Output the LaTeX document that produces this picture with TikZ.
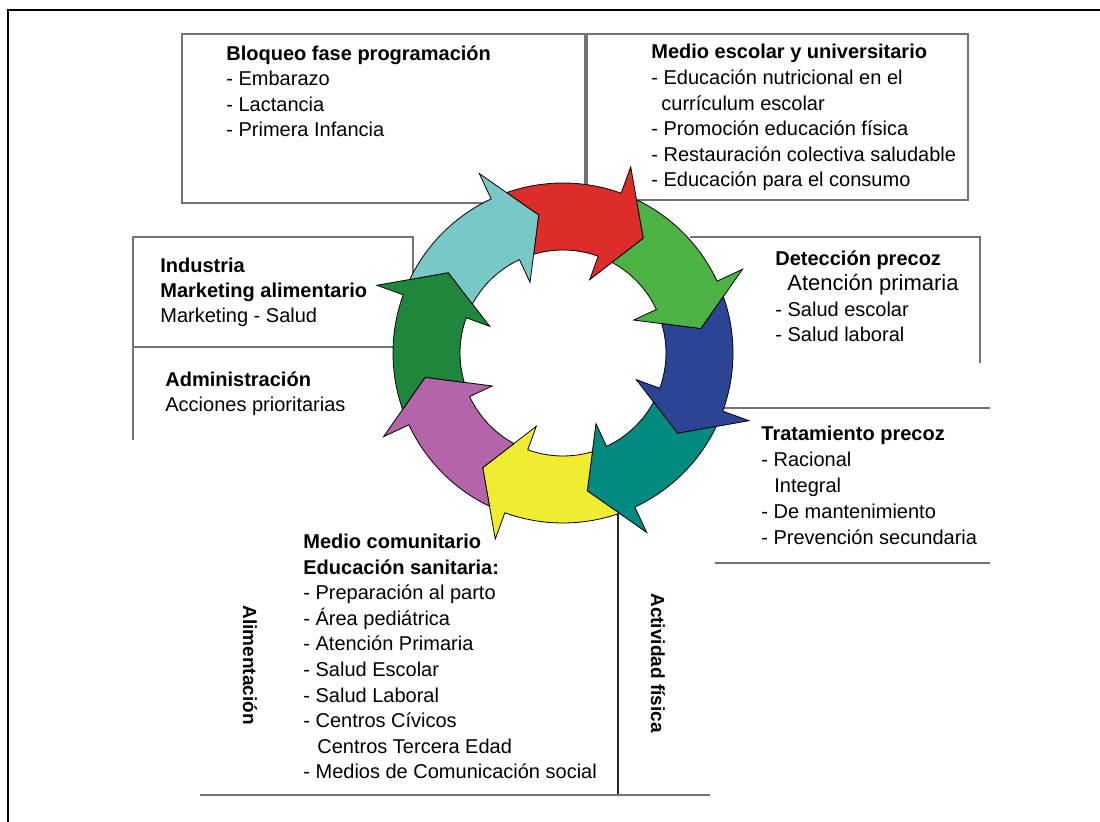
\documentclass[tikz,border=0pt]{standalone}
\usepackage{fontspec}
\setmainfont{Liberation Sans}

\definecolor{ringred}{RGB}{221,45,42}
\definecolor{ringlgreen}{RGB}{76,178,68}
\definecolor{ringblue}{RGB}{44,68,148}
\definecolor{ringteal}{RGB}{0,138,128}
\definecolor{ringyellow}{RGB}{240,236,50}
\definecolor{ringpurple}{RGB}{180,100,168}
\definecolor{ringdgreen}{RGB}{30,135,60}
\definecolor{ringcyan}{RGB}{120,200,200}

\begin{document}
\begin{tikzpicture}[x=0.5pt, y=-0.5pt,
   boxline/.style={black!55, line width=0.7pt},
   blocktext/.style={anchor=base west, align=left, inner sep=0pt, font=\fontsize{10}{12.8}\selectfont},
   sidetext/.style={rotate=-90, inner sep=0pt, font=\fontsize{9.5}{12}\selectfont\bfseries},
   ringpiece/.style={draw=black, line width=0.4pt}]
   \useasboundingbox (0,0) rectangle (1100,822);
   \draw[line width=1pt] (8,822) -- (8,10) -- (1100,10);

   % box lines
   \draw[boxline] (182,34) rectangle (585,203);
   \draw[boxline] (587,34) rectangle (968,200);
   \draw[boxline] (133,440) -- (133,237) -- (413,237) -- (413,300);
   \draw[boxline] (133,347) -- (395,347);
   \draw[boxline] (690,237) -- (980,237) -- (980,363);
   \draw[boxline] (700,408) -- (990,408);
   \draw[boxline] (715,563) -- (990,563);
   \draw[boxline, black!85] (618,505) -- (618,795);
   \draw[boxline] (200,795) -- (710,795);

   % cycle of arrows
   \coordinate (ring) at (563,353);
   \begin{scope}[shift={(ring)}, x=0.5pt, y=0.5pt]
      \foreach \a/\col in {70/ringred, 25/ringlgreen, -20/ringblue, -65/ringteal,
                           -110/ringyellow, -155/ringpurple, 160/ringdgreen, 115/ringcyan}
         \filldraw[ringpiece, fill=\col]
            (\a+39.4:170) arc[start angle=\a+39.4, end angle=\a, radius=170]
            -- (\a:198) -- (\a-15:140) -- (\a:78) -- (\a:103)
            arc[start angle=\a, end angle=\a+36.6, radius=103]
            -- (\a+30:140) -- cycle;
   \end{scope}

   % text blocks, anchored at the baseline of their last line
   \node[blocktext] (bloqueo) at (226,137)
      {\textbf{Bloqueo fase programación}\\- Embarazo\\- Lactancia\\- Primera Infancia};
   \node[blocktext] (escolar) at (651,187)
      {\textbf{Medio escolar y universitario}\\- Educación nutricional en el\\\hspace*{5pt}currículum escolar\\- Promoción educación física\\- Restauración colectiva saludable\\- Educación para el consumo};
   \node[blocktext] (deteccion) at (775,342)
      {\textbf{Detección precoz}\\\hspace*{6pt}{\fontsize{11}{12.8}\selectfont Atención primaria}\\- Salud escolar\\- Salud laboral};
   \node[blocktext, font=\fontsize{10}{13.1}\selectfont] (tratamiento) at (761,545)
      {\textbf{Tratamiento precoz}\\- Racional\\\hspace*{6.5pt}Integral\\- De mantenimiento\\- Prevención secundaria};
   \node[blocktext, font=\fontsize{10}{12.5}\selectfont] (industria) at (160,323)
      {\textbf{Industria}\\\textbf{Marketing alimentario}\\Marketing - Salud};
   \node[blocktext, font=\fontsize{10}{12.5}\selectfont] (administracion) at (165,412)
      {\textbf{Administración}\\Acciones prioritarias};
   \node[blocktext] (comunitario) at (303,779)
      {\textbf{Medio comunitario}\\\textbf{Educación sanitaria:}\\- Preparación al parto\\- Área pediátrica\\- Atención Primaria\\- Salud Escolar\\- Salud Laboral\\- Centros Cívicos\\\hspace*{7pt}Centros Tercera Edad\\- Medios de Comunicación social};

   \node[sidetext] (alimentacion) at (250,665) {Alimentación};
   \node[sidetext] (actividad) at (658,663) {Actividad física};
\end{tikzpicture}
\end{document}
